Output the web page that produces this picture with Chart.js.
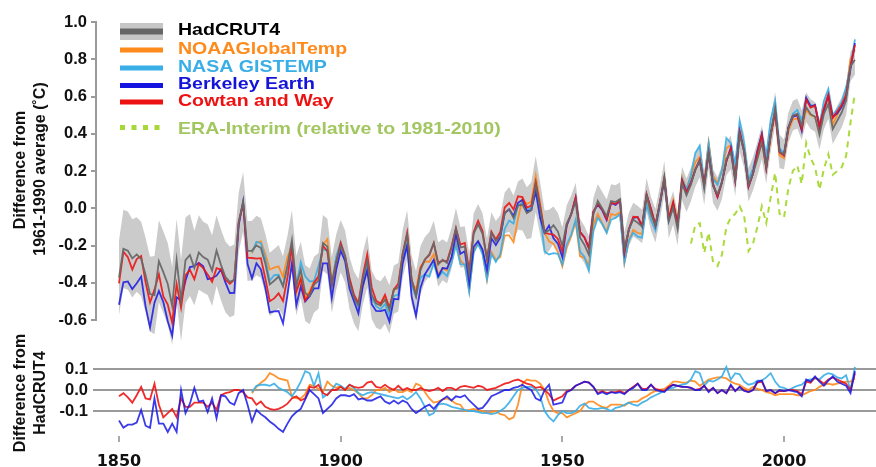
<!DOCTYPE html>
<html><head><meta charset="utf-8">
<script src="https://cdn.jsdelivr.net/npm/chart.js@4.4.1/dist/chart.umd.min.js"></script>
<style>
html,body{margin:0;padding:0;background:#fff;}
#wrap{position:relative;width:876px;height:467px;overflow:hidden;background:#fff;}
canvas{position:absolute;left:0;}
</style></head><body>
<div id="wrap">
<canvas id="top" width="876" height="350" style="top:0"></canvas>
<canvas id="bot" width="876" height="137" style="top:330px"></canvas>
</div>
<script>
// ---------------- DATA ----------------
const years = [
1850,1851,1852,1853,1854,1855,1856,1857,1858,1859,
1860,1861,1862,1863,1864,1865,1866,1867,1868,1869,
1870,1871,1872,1873,1874,1875,1876,1877,1878,1879,
1880,1881,1882,1883,1884,1885,1886,1887,1888,1889,
1890,1891,1892,1893,1894,1895,1896,1897,1898,1899,
1900,1901,1902,1903,1904,1905,1906,1907,1908,1909,
1910,1911,1912,1913,1914,1915,1916,1917,1918,1919,
1920,1921,1922,1923,1924,1925,1926,1927,1928,1929,
1930,1931,1932,1933,1934,1935,1936,1937,1938,1939,
1940,1941,1942,1943,1944,1945,1946,1947,1948,1949,
1950,1951,1952,1953,1954,1955,1956,1957,1958,1959,
1960,1961,1962,1963,1964,1965,1966,1967,1968,1969,
1970,1971,1972,1973,1974,1975,1976,1977,1978,1979,
1980,1981,1982,1983,1984,1985,1986,1987,1988,1989,
1990,1991,1992,1993,1994,1995,1996,1997,1998,1999,
2000,2001,2002,2003,2004,2005,2006,2007,2008,2009,
2010,2011,2012,2013,2014,2015,2016];

// HadCRUT4 annual anomaly (deg C, relative to 1961-1990)
const hadcrut4 = [
-0.373,-0.218,-0.228,-0.269,-0.248,-0.272,-0.358,-0.461,-0.467,-0.284,
-0.343,-0.407,-0.524,-0.278,-0.494,-0.279,-0.251,-0.321,-0.238,-0.262,
-0.276,-0.335,-0.227,-0.304,-0.368,-0.395,-0.384,-0.075,0.035,-0.230,
-0.227,-0.200,-0.213,-0.296,-0.409,-0.389,-0.367,-0.418,-0.307,-0.171,
-0.416,-0.330,-0.455,-0.473,-0.410,-0.390,-0.186,-0.206,-0.412,-0.289,
-0.203,-0.259,-0.402,-0.479,-0.520,-0.377,-0.283,-0.465,-0.511,-0.522,
-0.490,-0.544,-0.437,-0.424,-0.244,-0.141,-0.383,-0.468,-0.333,-0.275,
-0.247,-0.187,-0.302,-0.276,-0.294,-0.215,-0.108,-0.210,-0.206,-0.350,
-0.137,-0.087,-0.137,-0.273,-0.131,-0.178,-0.147,-0.026,-0.006,-0.052,
0.014,0.020,-0.027,-0.010,0.130,-0.003,-0.132,-0.118,-0.091,-0.125,
-0.202,-0.082,-0.032,0.037,-0.158,-0.197,-0.250,-0.034,0.039,-0.001,
-0.043,0.039,0.033,0.049,-0.219,-0.114,-0.061,-0.078,-0.098,0.072,
-0.029,-0.094,0.028,0.164,-0.071,0.003,-0.110,0.133,0.070,0.127,
0.207,0.256,0.107,0.301,0.118,0.076,0.140,0.267,0.299,0.156,
0.394,0.308,0.126,0.185,0.266,0.353,0.222,0.396,0.536,0.305,
0.289,0.434,0.497,0.508,0.446,0.543,0.505,0.491,0.395,0.506,
0.560,0.425,0.470,0.514,0.579,0.763,0.797];

// HadCRUT4 uncertainty half-width (grey band)
const hadcrut4Unc = [
0.20,0.21,0.21,0.21,0.20,0.20,0.20,0.20,0.21,0.22,
0.22,0.22,0.21,0.22,0.22,0.23,0.22,0.20,0.20,0.19,
0.19,0.19,0.19,0.19,0.19,0.19,0.19,0.16,0.16,0.16,
0.16,0.16,0.16,0.16,0.17,0.17,0.17,0.16,0.16,0.16,
0.16,0.15,0.15,0.15,0.15,0.15,0.15,0.15,0.15,0.15,
0.14,0.14,0.14,0.14,0.14,0.14,0.14,0.13,0.13,0.13,
0.13,0.13,0.13,0.13,0.13,0.13,0.13,0.13,0.13,0.12,
0.12,0.12,0.12,0.11,0.11,0.11,0.11,0.11,0.11,0.11,
0.11,0.11,0.11,0.11,0.11,0.11,0.11,0.11,0.12,0.12,
0.13,0.14,0.14,0.15,0.15,0.14,0.12,0.11,0.10,0.10,
0.10,0.10,0.10,0.10,0.10,0.10,0.10,0.09,0.09,0.09,
0.09,0.09,0.09,0.09,0.09,0.09,0.09,0.09,0.09,0.09,
0.09,0.09,0.09,0.09,0.09,0.09,0.09,0.09,0.09,0.09,
0.09,0.09,0.09,0.09,0.09,0.09,0.09,0.09,0.09,0.09,
0.09,0.09,0.09,0.09,0.09,0.09,0.09,0.09,0.09,0.09,
0.08,0.08,0.08,0.08,0.08,0.08,0.08,0.08,0.08,0.08,
0.08,0.08,0.08,0.08,0.08,0.08,0.08];

// Differences from HadCRUT4 (lower panel), 1850-2016
const cowtanWayMinusHad = [
-0.03,-0.015,-0.035,-0.06,-0.025,0.015,-0.04,-0.045,0.03,-0.07,
-0.13,-0.11,-0.09,-0.13,-0.04,-0.08,-0.08,-0.06,-0.06,-0.06,
-0.08,-0.06,-0.095,-0.025,-0.015,-0.01,0.0,0.0,-0.01,-0.035,
-0.04,-0.07,-0.055,-0.08,-0.09,-0.095,-0.09,-0.08,-0.065,-0.04,
-0.03,-0.05,-0.04,0.015,0.01,0.025,-0.015,-0.025,0.0,0.0,
0.015,0.0,0.025,0.015,0.01,0.015,0.035,0.04,0.015,0.01,
0.025,0.01,0.0,0.02,0.0,0.01,0.0,0.0,0.01,0.0,
-0.005,0.0,0.01,-0.005,0.01,0.01,0.0,0.015,0.02,0.015,
0.01,0.02,0.015,0.0,0.005,0.01,0.02,0.03,0.035,0.045,
0.05,0.04,0.03,0.025,0.01,0.015,0.0,-0.02,-0.05,-0.04,
-0.03,-0.005,0.0,0.02,0.03,0.04,0.035,0.015,-0.015,-0.005,
-0.015,-0.01,-0.01,-0.005,-0.015,0.0,0.015,0.03,0.005,0.005,
0.025,0.005,0.0,-0.005,0.015,0.025,0.02,0.015,0.015,0.01,
0.0,0.005,0.02,-0.005,0.01,-0.015,0.0,-0.015,0.02,-0.005,
0.015,0.0,-0.01,0.0,0.035,0.04,-0.005,0.0,-0.015,-0.005,
-0.005,0.0,0.0,-0.005,-0.02,0.04,0.035,0.06,0.045,0.03,
0.05,0.06,0.05,0.04,0.03,0.0,0.08];

const berkeleyMinusHad = [
-0.145,-0.18,-0.165,-0.165,-0.155,-0.095,-0.17,-0.18,-0.04,-0.16,
-0.16,-0.2,-0.16,-0.2,0.0,-0.11,-0.065,0.01,-0.055,-0.05,
-0.105,-0.04,-0.135,-0.025,-0.03,-0.06,-0.07,-0.015,0.0,-0.07,
-0.15,-0.095,-0.115,-0.13,-0.15,-0.165,-0.185,-0.2,-0.16,-0.125,
-0.105,-0.09,-0.045,0.0,-0.02,-0.04,-0.11,-0.09,-0.07,-0.04,
-0.025,-0.025,-0.03,-0.02,-0.045,-0.04,-0.05,-0.05,-0.04,-0.03,
-0.055,-0.065,-0.05,-0.065,-0.05,-0.06,-0.09,-0.11,-0.095,-0.08,
-0.07,-0.09,-0.065,-0.045,-0.03,-0.05,-0.03,-0.035,-0.025,-0.05,
-0.07,-0.09,-0.085,-0.06,-0.03,-0.02,-0.01,0.0,0.0,0.01,
0.015,0.025,0.01,0.0,-0.04,-0.05,0.0,0.025,-0.07,-0.065,
-0.06,-0.01,0.0,0.02,0.03,0.04,0.035,0.015,-0.02,-0.01,
-0.02,-0.01,-0.015,-0.01,-0.02,0.0,0.01,0.03,0.0,0.0,
0.025,0.0,-0.005,-0.01,0.01,0.025,0.02,0.015,0.015,0.01,
0.0,0.0,0.02,-0.01,0.01,-0.015,0.0,-0.015,0.025,-0.005,
0.015,-0.005,-0.01,0.0,0.04,0.045,-0.005,0.0,-0.015,0.0,
-0.005,0.0,-0.005,-0.01,-0.03,0.05,0.04,0.065,0.04,0.02,
0.045,0.065,0.04,0.03,0.02,-0.015,0.09];

// NOAA and NASA series begin in 1880
const noaaGistempStartYear = 1880;
const noaaMinusHad = [
-0.015,0.015,0.035,0.05,0.08,0.07,0.055,0.05,0.045,-0.03,
-0.04,-0.04,-0.02,0.025,0.02,0.005,-0.01,0.04,0.02,0.01,
0.02,0.0,0.01,0.0,-0.015,-0.04,-0.04,-0.025,0.0,0.0,
0.01,-0.01,0.005,-0.01,-0.01,0.0,-0.01,0.03,0.02,-0.01,
-0.04,-0.06,-0.055,-0.045,-0.04,-0.05,-0.065,-0.07,-0.1,-0.095,
-0.09,-0.095,-0.1,-0.11,-0.105,-0.1,-0.115,-0.12,-0.14,-0.13,
-0.07,0.03,0.05,0.045,0.045,0.03,0.0,-0.06,-0.1,-0.11,
-0.11,-0.13,-0.12,-0.11,-0.1,-0.07,-0.055,-0.055,-0.07,-0.08,
-0.085,-0.07,-0.07,-0.07,-0.075,-0.06,-0.055,-0.055,-0.04,-0.03,
-0.015,-0.005,0.0,0.005,0.02,0.04,0.04,0.035,0.035,0.045,
0.04,0.02,0.035,0.05,0.055,0.06,0.06,0.055,0.04,0.03,
0.025,0.01,0.0,0.015,0.005,0.0,-0.01,-0.015,-0.025,-0.02,
-0.02,-0.02,-0.02,-0.025,-0.025,-0.015,-0.005,0.0,0.015,0.025,
0.03,0.025,0.03,0.035,0.04,0.04,0.055];

const gistempMinusHad = [
-0.01,0.02,0.025,0.025,0.02,0.03,0.01,0.0,-0.01,-0.03,
0.0,0.04,0.09,0.08,0.02,0.08,-0.035,-0.02,0.0,0.03,
0.02,0.005,0.025,0.01,-0.015,-0.025,-0.015,-0.01,-0.015,-0.02,
-0.025,-0.03,-0.035,-0.04,-0.03,-0.045,-0.03,-0.01,-0.04,-0.08,
-0.12,-0.11,-0.07,-0.065,-0.07,-0.08,-0.085,-0.09,-0.095,-0.1,
-0.1,-0.105,-0.11,-0.11,-0.115,-0.11,-0.1,-0.085,-0.06,-0.03,
0.0,0.01,0.015,0.015,0.005,-0.03,-0.1,-0.13,-0.15,-0.12,
-0.1,-0.11,-0.11,-0.1,-0.075,-0.065,-0.085,-0.09,-0.09,-0.085,
-0.09,-0.1,-0.085,-0.08,-0.07,-0.06,-0.07,-0.075,-0.06,-0.05,
-0.035,-0.025,-0.015,0.0,0.005,0.01,0.02,0.025,0.03,0.05,
0.09,0.08,0.02,0.045,0.04,0.05,0.065,0.11,0.05,0.08,
0.075,0.04,0.025,0.03,0.045,0.045,0.06,0.08,0.04,0.015,
0.01,0.0,0.01,0.02,0.025,0.045,0.05,0.055,0.05,0.07,
0.08,0.075,0.06,0.055,0.07,0.0,0.11];

// ERA-Interim, relative to 1981-2010
const eraYears = [1979,1980,1981,1982,1983,1984,1985,1986,1987,1988,
1989,1990,1991,1992,1993,1994,1995,1996,1997,1998,
1999,2000,2001,2002,2003,2004,2005,2006,2007,2008,
2009,2010,2011,2012,2013,2014,2015,2016];
const eraInterim = [
-0.19,-0.09,-0.08,-0.24,-0.13,-0.29,-0.31,-0.25,-0.1,-0.05,
-0.03,0.01,-0.04,-0.23,-0.19,-0.1,0.01,-0.08,0.06,0.19,
-0.03,-0.05,0.11,0.2,0.23,0.13,0.35,0.27,0.22,0.1,
0.21,0.29,0.18,0.2,0.22,0.28,0.46,0.62];

const yTicksTop = [-0.6,-0.4,-0.2,0.0,0.2,0.4,0.6,0.8,1.0];
const yTicksBottom = [-0.1,0.0,0.1];
const xTicks = [1850,1900,1950,2000];

const legendItems = [
  {label:'HadCRUT4', text:'#000000', line:'#666666', band:true},
  {label:'NOAAGlobalTemp', text:'#FF8A1C', line:'#FF8A1C'},
  {label:'NASA GISTEMP', text:'#3AAEE6', line:'#3AAEE6'},
  {label:'Berkeley Earth', text:'#1414D8', line:'#1414E0'},
  {label:'Cowtan and Way', text:'#EE1111', line:'#EE1111'},
  {label:'ERA-Interim (relative to 1981-2010)', text:'#A2C660', line:'#A8D838', dash:true}
];

// ---------------- STYLE ----------------
const C = {
  had:'rgba(104,104,104,0.95)', band:'#CBCBCB',
  noaa:'rgba(255,138,28,0.9)', nasa:'rgba(58,174,230,0.9)',
  berk:'rgba(24,24,230,0.85)', cw:'rgba(238,20,20,0.9)', era:'#ABDA3C'
};
const X_MIN = 1845.04, X_MAX = 2020.75;

const startIdx = years.indexOf(noaaGistempStartYear);
const pts = (xs, ys) => xs.map((x,i)=>({x:x, y:ys[i]}));
const plusHad = (diff, off) => diff.map((d,i)=>({x:years[i+off], y:hadcrut4[i+off]+d}));

function lineDs(data, color, width, extra){
  return Object.assign({data:data, borderColor:color, borderWidth:width, pointRadius:0,
    tension:0, fill:false}, extra||{});
}

function rotText(ctx, text, x, y){
  ctx.save(); ctx.translate(x,y); ctx.rotate(-Math.PI/2);
  ctx.textAlign='center'; ctx.textBaseline='alphabetic';
  ctx.fillText(text,0,0); ctx.restore();
}

function fixY(s){ s.width = 97; s.paddingTop = 0; s.paddingBottom = 0; }

const topDecor = {
  id:'topDecor',
  afterDraw(chart){
    const ctx = chart.ctx, ys = chart.scales.y;
    ctx.save();
    // left axis line from -0.6 to 1.0
    ctx.strokeStyle='#9a9a9a'; ctx.lineWidth=2;
    const ax = chart.chartArea.left - 1;
    ctx.beginPath();
    ctx.moveTo(ax, ys.getPixelForValue(yTicksTop[yTicksTop.length-1]) - 1);
    ctx.lineTo(ax, ys.getPixelForValue(yTicksTop[0]) + 1);
    ctx.stroke();
    // legend
    const rows = [31.5, 50, 68, 85.5, 102, 127.5];
    const base = [35, 53.5, 71.8, 88.5, 106, 134];
    legendItems.forEach((it,i)=>{
      const y = rows[i];
      if (it.band){
        ctx.fillStyle='#C6C6C6'; ctx.fillRect(120, y-8.5, 43, 17);
      }
      ctx.strokeStyle = it.line; ctx.lineWidth = it.band ? 6 : 5;
      if (it.dash){ ctx.setLineDash([5,6.5]); ctx.lineWidth=5; }
      ctx.beginPath(); ctx.moveTo(120,y); ctx.lineTo(163,y); ctx.stroke();
      ctx.setLineDash([]);
      ctx.save();
      ctx.translate(178, base[i]); ctx.scale(1.15,1);
      ctx.font='bold 17px "Liberation Sans", Arial, sans-serif';
      ctx.fillStyle = it.text; ctx.textAlign='left'; ctx.textBaseline='alphabetic';
      ctx.fillText(it.label, 0, 0);
      ctx.restore();
    });
    // y title
    ctx.fillStyle='#111';
    ctx.font='bold 16px "Liberation Sans", Arial, sans-serif';
    rotText(ctx, 'Difference from', 25, 170);
    rotText(ctx, '1961-1990 average (\u02DAC)', 45, 169);
    ctx.restore();
  }
};

const botDecor = {
  id:'botDecor',
  afterDraw(chart){
    const ctx = chart.ctx;
    ctx.save();
    ctx.fillStyle='#111';
    ctx.font='bold 16px "Liberation Sans", Arial, sans-serif';
    rotText(ctx, 'Difference from', 25, 63);
    rotText(ctx, 'HadCRUT4', 45, 63);
    ctx.restore();
  }
};

const tickFontY = {family:'"Liberation Sans", Arial, sans-serif', size:16.5, weight:'bold'};

// ---------------- TOP CHART ----------------
new Chart(document.getElementById('top'), {
  type:'line',
  data:{ datasets:[
    lineDs(pts(years, hadcrut4), C.had, 1.8),
    lineDs(plusHad(cowtanWayMinusHad,0), C.cw, 1.8),
    lineDs(plusHad(berkeleyMinusHad,0), C.berk, 1.8),
    lineDs(plusHad(gistempMinusHad,startIdx), C.nasa, 1.8),
    lineDs(plusHad(noaaMinusHad,startIdx), C.noaa, 1.8),
    lineDs(pts(eraYears, eraInterim), C.era, 2, {borderDash:[6,5]}),
    lineDs(years.map((x,i)=>({x:x, y:hadcrut4[i]+hadcrut4Unc[i]})), 'rgba(0,0,0,0)', 0,
      {fill:'+1', backgroundColor:C.band}),
    lineDs(years.map((x,i)=>({x:x, y:hadcrut4[i]-hadcrut4Unc[i]})), 'rgba(0,0,0,0)', 0)
  ]},
  options:{
    responsive:false, animation:false, devicePixelRatio:1, events:[],
    layout:{padding:{top:22,bottom:2,left:0,right:0}},
    plugins:{legend:{display:false}, tooltip:{enabled:false}},
    scales:{
      x:{type:'linear', min:X_MIN, max:X_MAX, display:false},
      y:{type:'linear', min:-0.7503, max:1.0,
        afterFit:fixY,
        afterBuildTicks(s){ s.ticks = yTicksTop.map(v=>({value:v})); },
        border:{display:false},
        grid:{drawOnChartArea:false, drawTicks:true, tickLength:6, color:'#9a9a9a', lineWidth:2},
        ticks:{font:tickFontY, color:'#111', padding:4,
          callback:(v)=>Number(v).toFixed(1)}
      }
    }
  },
  plugins:[topDecor]
});

// ---------------- BOTTOM CHART ----------------
new Chart(document.getElementById('bot'), {
  type:'line',
  data:{ datasets:[
    lineDs(pts(years, berkeleyMinusHad), C.berk, 1.8),
    lineDs(pts(years, cowtanWayMinusHad), C.cw, 1.8),
    lineDs(pts(years.slice(startIdx), gistempMinusHad), C.nasa, 1.8),
    lineDs(pts(years.slice(startIdx), noaaMinusHad), C.noaa, 1.8)
  ]},
  options:{
    responsive:false, animation:false, devicePixelRatio:1, events:[],
    layout:{padding:{top:25,bottom:0,left:0,right:0}},
    plugins:{legend:{display:false}, tooltip:{enabled:false}},
    scales:{
      x:{type:'linear', min:X_MIN, max:X_MAX,
        afterFit(s){ s.height = 31; s.paddingLeft = 0; s.paddingRight = 0; },
        afterBuildTicks(s){ s.ticks = xTicks.map(v=>({value:v})); },
        border:{display:false},
        grid:{drawOnChartArea:false, drawTicks:true, tickLength:6, color:'#aaaaaa', lineWidth:2},
        ticks:{font:{family:'"DejaVu Sans", Verdana, sans-serif', size:16, weight:'bold'},
          color:'#111', padding:10, maxRotation:0, autoSkip:false,
          callback:(v)=>String(v)}
      },
      y:{type:'linear', min:-0.21905, max:0.16667,
        afterFit:fixY,
        afterBuildTicks(s){ s.ticks = yTicksBottom.map(v=>({value:v})); },
        border:{display:false},
        grid:{drawOnChartArea:true, drawTicks:true, tickLength:4, color:'#9a9a9a', lineWidth:2},
        ticks:{font:tickFontY, color:'#111', padding:5,
          callback:(v)=>Number(v).toFixed(1)}
      }
    }
  },
  plugins:[botDecor]
});
</script>
</body></html>
